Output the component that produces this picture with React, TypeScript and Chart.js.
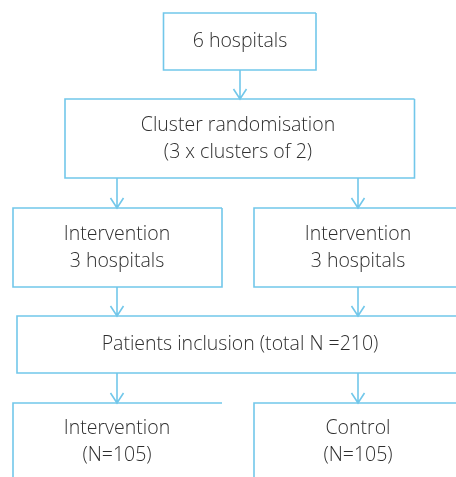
import React, { useEffect, useRef } from "react";
import { Chart, registerables } from "chart.js";

Chart.register(...registerables);

// Flowchart nodes (in chart units: x 0..456, y 0..477 top-down)
const nodeLabels: string[][] = [
  ["6 hospitals"],
  ["Cluster randomisation", "(3 x clusters of 2)"],
  ["Intervention", "3 hospitals"],
  ["Intervention", "3 hospitals"],
  ["Patients inclusion (total N =210)"],
  ["Intervention", "(N=105)"],
  ["Control", "(N=105)"],
];
const nodeLeft = [163.5, 65, 13, 254, 17, 13, 254];
const nodeRight = [316, 414.5, 222, 470, 470, 222, 470];
const nodeTop = [13, 99, 208, 208, 316, 403, 403];
const nodeBottom = [70, 178, 287, 287, 373, 490, 490];
const textCenterX = [240, 238, 117, 358, 240, 117, 358];

// Arrows: from node -> to node at given x
const arrowFrom = [0, 1, 1, 2, 3, 4, 4];
const arrowTo = [1, 2, 3, 4, 4, 5, 6];
const arrowX = [240, 117, 358, 117, 358, 117, 358];

const LINE = "#72c7ea";
const TEXT = "#2e2e2e";

const flowPlugin = {
  id: "flow",
  afterDatasetsDraw(chart: any) {
    const ctx = chart.ctx as CanvasRenderingContext2D;
    const xs = chart.scales.x;
    const ys = chart.scales.y;
    ctx.save();
    ctx.strokeStyle = LINE;
    ctx.lineWidth = 1.6;
    for (let i = 0; i < nodeLabels.length; i++) {
      const x0 = xs.getPixelForValue(nodeLeft[i]);
      const x1 = xs.getPixelForValue(Math.min(nodeRight[i], xs.max + 20));
      const y0 = ys.getPixelForValue(nodeTop[i]);
      const y1 = ys.getPixelForValue(Math.min(nodeBottom[i], ys.max + 20));
      ctx.beginPath();
      ctx.moveTo(x1, y0);
      ctx.lineTo(x0, y0);
      ctx.lineTo(x0, y1);
      if (nodeBottom[i] <= ys.max) ctx.lineTo(x1, y1);
      if (nodeRight[i] <= xs.max && nodeBottom[i] <= ys.max) ctx.lineTo(x1, y0);
      ctx.stroke();
    }
    for (let i = 0; i < arrowFrom.length; i++) {
      const x = xs.getPixelForValue(arrowX[i]);
      const ya = ys.getPixelForValue(nodeBottom[arrowFrom[i]]);
      const yb = ys.getPixelForValue(nodeTop[arrowTo[i]]);
      ctx.beginPath();
      ctx.moveTo(x, ya);
      ctx.lineTo(x, yb);
      ctx.moveTo(x - 6.5, yb - 10);
      ctx.lineTo(x, yb);
      ctx.lineTo(x + 6.5, yb - 10);
      ctx.stroke();
    }
    ctx.fillStyle = TEXT;
    ctx.font = "300 19.5px 'Open Sans', sans-serif";
    ctx.textAlign = "center";
    ctx.textBaseline = "middle";
    const lineH = 27;
    for (let i = 0; i < nodeLabels.length; i++) {
      const lines = nodeLabels[i];
      const cx = xs.getPixelForValue(textCenterX[i]);
      let cy: number;
      if (i >= 5) cy = ys.getPixelForValue(nodeTop[i] + 38.5);
      else cy = ys.getPixelForValue((nodeTop[i] + nodeBottom[i]) / 2);
      const start = cy - ((lines.length - 1) * lineH) / 2;
      lines.forEach((t, k) => ctx.fillText(t, cx, start + k * lineH));
    }
    ctx.restore();
  },
};

export default function App() {
  const ref = useRef<HTMLCanvasElement>(null);
  useEffect(() => {
    if (!ref.current) return;
    const chart = new Chart(ref.current, {
      type: "scatter",
      data: {
        datasets: [
          {
            data: nodeLabels.map((_, i) => ({ x: textCenterX[i], y: nodeTop[i] })),
            pointRadius: 0,
            showLine: false,
          },
        ],
      },
      options: {
        animation: false,
        responsive: false,
        layout: { padding: 0 },
        plugins: { legend: { display: false }, tooltip: { enabled: false } },
        scales: {
          x: { type: "linear", min: 0, max: 456, display: false },
          y: { type: "linear", min: 0, max: 477, reverse: true, display: false },
        },
      },
      plugins: [flowPlugin],
    });
    return () => chart.destroy();
  }, []);
  return (
    <div style={{ position: "fixed", left: 0, top: 0, width: 456, height: 477, background: "#fff" }}>
      <canvas ref={ref} width={456} height={477} style={{ display: "block" }} />
    </div>
  );
}
